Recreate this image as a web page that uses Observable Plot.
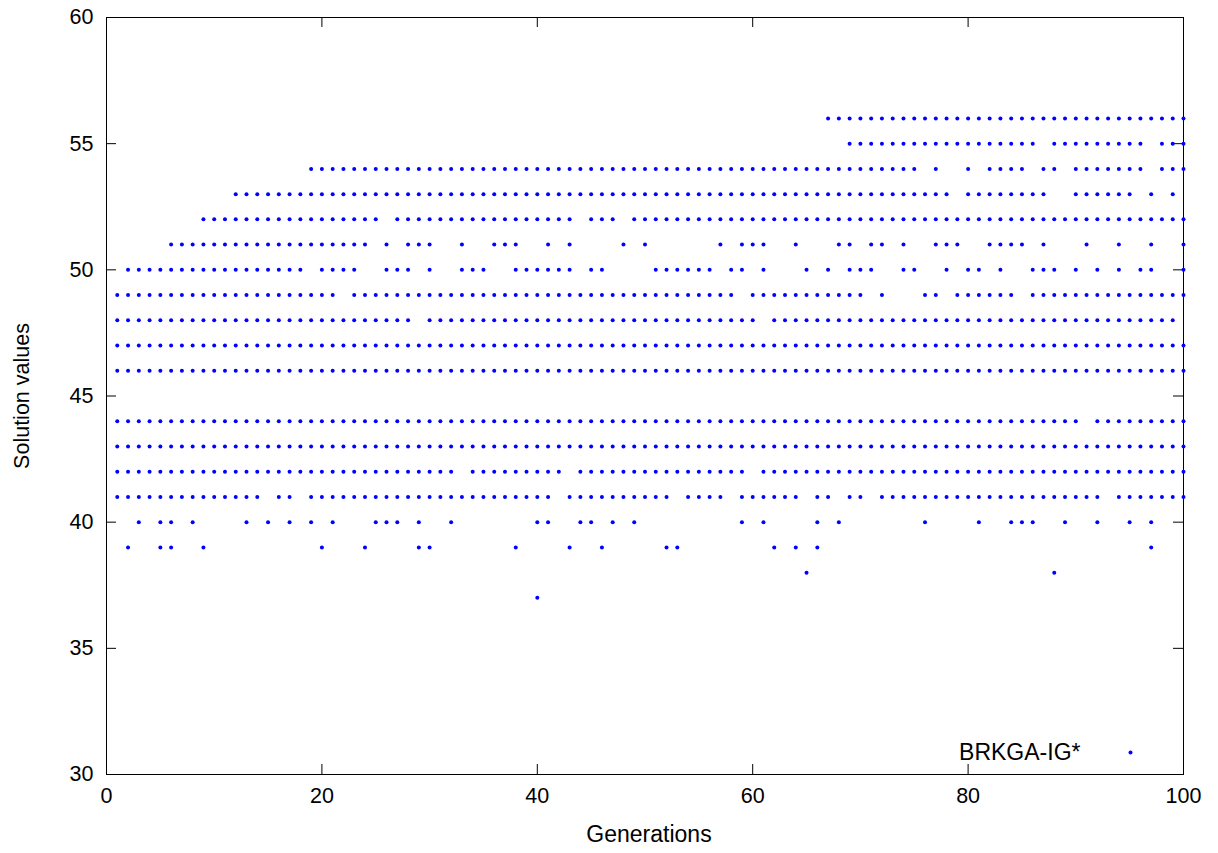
<!DOCTYPE html>
<html><head><meta charset="utf-8">
<script src="https://cdn.jsdelivr.net/npm/d3@7"></script>
<script src="https://cdn.jsdelivr.net/npm/@observablehq/plot@0.6"></script>
<style>
body{margin:0;background:#fff}
svg{font-family:"Liberation Sans",Arial,Helvetica,sans-serif}
</style>
</head><body><div id="chart"></div>
<script>
const seriesName = "BRKGA-IG*";
const xLabel = "Generations";
const yLabel = "Solution values";
const xTicks = [0, 20, 40, 60, 80, 100];
const yTicks = [30, 35, 40, 45, 50, 55, 60];

// One string per solution value: character i = generation i+1 ('1' = a point is drawn)
const row56 = "0000000000 0000000000 0000000000 0000000000 0000000000 0000000000 0000001111 1111111111 1111111111 1111111111";
const row55 = "0000000000 0000000000 0000000000 0000000000 0000000000 0000000000 0000000011 1111111111 1111110111 1111110111";
const row54 = "0000000000 0000000011 1111111111 1111111111 1111111111 1111111111 1111111111 1111101001 0111101101 1111110111";
const row53 = "0000000000 0111111111 1111111111 1111111111 1111111111 1111111111 1111111111 1111111101 1111111001 1111101010";
const row52 = "0000000011 1111111111 1111101111 1111111111 1110111011 1111111111 1111111111 1111111111 1111111111 1111111111";
const row51 = "0000011111 1111111111 1111010111 0010011100 1010000101 0000001011 1001000110 1101001110 0111101000 1001001001";
const row50 = "0111111111 1111111101 1110011101 0011100111 1110110000 1111110110 1000101011 1001100101 1010011101 0101011001";
const row49 = "1111111111 1111111111 1011111111 1111111111 1111111111 1111111101 1111111111 0100011011 1111011111 1111111111";
const row48 = "1111111111 1111111111 1111111101 1111111111 1111111111 1111111111 0111111111 1111111111 1111111111 1111111110";
const row47 = "1111111111 1111111111 1111111111 1111111111 1111111111 1111111111 1111111111 1111111111 1111111111 1111111111";
const row46 = "1111111111 1111111111 1111111111 1111111111 1111111111 1111111111 1111111111 1111111111 1111111111 1111111111";
const row44 = "1111111111 1111111111 1111111111 1111111111 1111111111 1111111111 1111111111 1111111111 1111111111 0111111111";
const row43 = "1111111111 1111111111 1111111111 1111111111 1111111111 1111111111 1111111111 1111111111 1111111111 1111111111";
const row42 = "1111111111 1111111111 1111111111 1101111111 1101111111 1111111110 1111111111 1111111111 1111111111 1111111111";
const row41 = "1111111111 1111011011 1111111111 1111111111 1011111111 1101111011 1111011011 0111111111 1111111111 1101111111";
const row40 = "0010110100 0010101010 1000111010 0100000001 1001101010 0000000010 1000010100 0000010000 1001110010 0100101000";
const row39 = "0100110010 0000000001 0001000011 0000000100 0010010000 0110000000 0101010000 0000000000 0000000000 0000001000";
const row38 = "0000000000 0000000000 0000000000 0000000000 0000000000 0000000000 0000100000 0000000000 0000000100 0000000000";
const row37 = "0000000000 0000000000 0000000000 0000000001 0000000000 0000000000 0000000000 0000000000 0000000000 0000000000";

const rows = [
  [56, row56], [55, row55], [54, row54], [53, row53], [52, row52], [51, row51],
  [50, row50], [49, row49], [48, row48], [47, row47], [46, row46], [44, row44],
  [43, row43], [42, row42], [41, row41], [40, row40], [39, row39], [38, row38], [37, row37]
];

const points = [];
for (const [value, s] of rows) {
  const bits = s.replace(/\s+/g, "");
  for (let i = 0; i < bits.length; i++) {
    if (bits[i] === "1") points.push({generation: i + 1, value});
  }
}

const W = 1218, H = 853;
const mL = 106, mR = 35, mT = 17, mB = 79;
const innerW = W - mL - mR, innerH = H - mT - mB;
const tick = 10;

const chart = Plot.plot({
  width: W,
  height: H,
  marginLeft: mL,
  marginRight: mR,
  marginTop: mT,
  marginBottom: mB,
  style: {fontSize: "21px", fontFamily: '"Liberation Sans", Arial, Helvetica, sans-serif', color: "#000", background: "#fff"},
  x: {domain: [0, 100]},
  y: {domain: [30, 60]},
  marks: [
    Plot.frame({stroke: "#000", strokeWidth: 1}),
    Plot.axisX(xTicks, {tickSize: 0, tickPadding: 13, label: null, fontSize: 21.5}),
    Plot.axisY(yTicks, {tickSize: 0, tickPadding: 13, label: null, fontSize: 21.5}),
    Plot.tickX(xTicks, {x: d => d, insetTop: innerH - tick, stroke: "#000"}),
    Plot.tickX(xTicks, {x: d => d, insetBottom: innerH - tick, stroke: "#000"}),
    Plot.tickY(yTicks, {y: d => d, insetRight: innerW - tick, stroke: "#000"}),
    Plot.tickY(yTicks, {y: d => d, insetLeft: innerW - tick, stroke: "#000"}),
    Plot.dot(points, {x: "generation", y: "value", r: 2, fill: "#0000ff", stroke: null}),
    Plot.text([xLabel], {text: d => d, frameAnchor: "bottom", dx: 4, dy: 67, textAnchor: "middle", fontSize: 23, fill: "#000"}),
    Plot.text([yLabel], {text: d => d, frameAnchor: "left", dx: -84, rotate: -90, textAnchor: "middle", fontSize: 21.5, fill: "#000"}),
    Plot.text([seriesName], {text: d => d, frameAnchor: "bottom-right", dx: -103, dy: -15, textAnchor: "end", fontSize: 23, fill: "#000"}),
    Plot.dot([seriesName], {frameAnchor: "bottom-right", dx: -53, dy: -22, r: 2, fill: "#0000ff", stroke: null})
  ]
});
document.getElementById("chart").appendChild(chart);
</script>
</body></html>
